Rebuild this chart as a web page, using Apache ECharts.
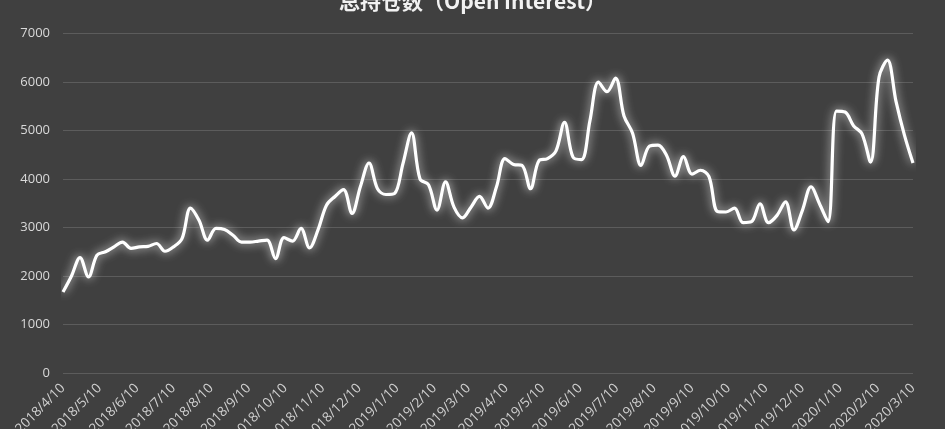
<!DOCTYPE html>
<html>
<head>
<meta charset="utf-8">
<script src="https://cdn.jsdelivr.net/npm/echarts@6/dist/echarts.min.js"></script>
<style>
html,body{margin:0;padding:0;background:#404040;}
#c{width:945px;height:429px;}
</style>
</head>
<body>
<div id="c"></div>
<script>
// Weekly observations (every Tuesday) from 2018/4/10 to 2020/3/10
const startDateLabel = '2018/4/10';
const openInterest = [
  1670, 2000, 2380, 1980, 2430, 2500, 2600, 2700, 2570, 2600,
  2610, 2670, 2510, 2600, 2770, 3400, 3150, 2740, 2980, 2960,
  2840, 2700, 2700, 2720, 2740, 2360, 2790, 2720, 2980, 2580,
  2950, 3460, 3640, 3780, 3290, 3850, 4330, 3800, 3680, 3700,
  4320, 4950, 4000, 3880, 3360, 3940, 3420, 3200, 3420, 3640,
  3400, 3840, 4420, 4300, 4280, 3800, 4380, 4420, 4580, 5170,
  4450, 4400, 5210, 6000, 5800, 6080, 5300, 4950, 4280, 4680,
  4700, 4490, 4060, 4460, 4100, 4180, 4050, 3330, 3320, 3400,
  3100, 3120, 3490, 3100, 3250, 3530, 2950, 3360, 3840, 3490,
  3120, 5400, 5380, 5100, 4930, 4350, 6100, 6450, 5600, 4900,
  4330
];
const tickLabels = [
  '2018/4/10','2018/5/10','2018/6/10','2018/7/10','2018/8/10','2018/9/10',
  '2018/10/10','2018/11/10','2018/12/10','2019/1/10','2019/2/10','2019/3/10',
  '2019/4/10','2019/5/10','2019/6/10','2019/7/10','2019/8/10','2019/9/10',
  '2019/10/10','2019/11/10','2019/12/10','2020/1/10','2020/2/10','2020/3/10'
];
const yTicks = [0, 1000, 2000, 3000, 4000, 5000, 6000, 7000];
const titleText = '总持仓数（Open Interest）';

// day offsets (from the first date) used as positions on the x value axis
function dayOffset(s){
  const p = s.split('/').map(Number);
  const q = startDateLabel.split('/').map(Number);
  return Math.round((Date.UTC(p[0], p[1]-1, p[2]) - Date.UTC(q[0], q[1]-1, q[2])) / 86400000);
}
const tickDays = tickLabels.map(dayOffset);
const seriesData = openInterest.map((v, i) => [i * 7, v]);

const chart = echarts.init(document.getElementById('c'), null, {renderer:'canvas'});
chart.setOption({
  backgroundColor: '#404040',
  animation: false,
  title: {
    text: titleText,
    left: 'center',
    top: -14,
    textStyle: { color: '#f2f2f2', fontSize: 21, fontWeight: 'bold', fontFamily: 'Noto Sans CJK SC' }
  },
  grid: { left: 63, right: 32, top: 33.5, bottom: 56, containLabel: false, outerBoundsMode: 'none' },
  xAxis: {
    type: 'value',
    min: tickDays[0],
    max: tickDays[tickDays.length-1],
    axisLine: { show: false },
    axisTick: { show: false },
    splitLine: { show: false },
    axisLabel: {
      customValues: tickDays,
      rotate: 45,
      color: '#d0d0d0',
      fontSize: 13.5,
      fontFamily: 'Open Sans',
      margin: 13,
      formatter: function (v) {
        const idx = tickDays.indexOf(Math.round(v));
        return idx >= 0 ? tickLabels[idx] : '';
      }
    }
  },
  yAxis: {
    type: 'value',
    min: yTicks[0],
    max: yTicks[yTicks.length-1],
    interval: 1000,
    axisLine: { show: false },
    axisTick: { show: false },
    splitLine: { lineStyle: { color: '#5c5c5c', width: 1 } },
    axisLabel: {
      color: '#d9d9d9', fontSize: 13, fontFamily: 'Open Sans', margin: 13,
      formatter: function (v) { return String(v); }
    }
  },
  series: [{
    type: 'line',
    data: seriesData,
    smooth: 0.35,
    showSymbol: false,
    lineStyle: {
      color: '#ffffff',
      width: 3.2,
      shadowColor: 'rgba(255,255,255,0.85)',
      shadowBlur: 10
    }
  }]
});
</script>
</body>
</html>
